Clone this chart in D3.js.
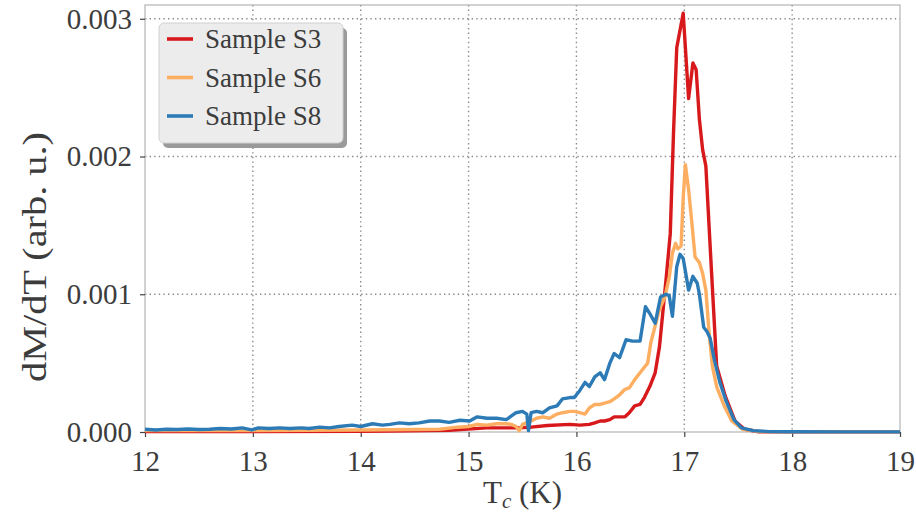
<!DOCTYPE html>
<html>
<head>
<meta charset="utf-8">
<script src="https://cdn.jsdelivr.net/npm/d3@7/dist/d3.min.js"></script>
<style>
  body { margin: 0; background: #fff; }
  text { font-family: "Liberation Serif", "DejaVu Serif", serif; fill: #3c3c3c; }
</style>
</head>
<body>
<svg id="chart" width="916" height="512"></svg>
<script>
// values, dM/dT in units of 0.001
var tempS3 = [12.0, 13.0, 14.0, 14.27, 14.82, 15.17, 15.44, 15.58, 15.73, 15.94, 16.03, 16.12, 16.17, 16.22, 16.26, 16.31, 16.35, 16.4, 16.45, 16.49, 16.54, 16.59, 16.63, 16.68, 16.73, 16.77, 16.8, 16.83, 16.87, 16.9, 16.93, 16.99, 17.04, 17.08, 17.11, 17.14, 17.17, 17.2, 17.25, 17.3, 17.38, 17.47, 17.56, 17.69, 18.0, 19.0];
var valS3 = [0.003, 0.004, 0.005, 0.006, 0.013, 0.03, 0.03, 0.035, 0.047, 0.055, 0.05, 0.055, 0.066, 0.08, 0.08, 0.09, 0.11, 0.11, 0.11, 0.14, 0.19, 0.2, 0.25, 0.33, 0.43, 0.62, 0.86, 1.1, 1.44, 2.17, 2.79, 3.04, 2.42, 2.68, 2.63, 2.27, 2.05, 1.93, 1.2, 0.48, 0.26, 0.08, 0.02, 0.002, 0.001, 0.001];

var tempS6 = [12.0, 13.0, 13.5, 14.0, 14.5, 14.73, 14.9, 15.0, 15.08, 15.17, 15.26, 15.35, 15.4, 15.44, 15.47, 15.5, 15.58, 15.63, 15.69, 15.75, 15.82, 15.87, 15.94, 15.98, 16.03, 16.08, 16.12, 16.17, 16.22, 16.26, 16.31, 16.35, 16.4, 16.45, 16.49, 16.54, 16.59, 16.63, 16.66, 16.69, 16.73, 16.77, 16.82, 16.86, 16.89, 16.92, 16.94, 16.97, 16.99, 17.01, 17.04, 17.07, 17.1, 17.14, 17.17, 17.2, 17.23, 17.26, 17.3, 17.37, 17.44, 17.54, 17.7, 18.0, 19.0];
var valS6 = [0.01, 0.01, 0.012, 0.015, 0.018, 0.02, 0.035, 0.04, 0.055, 0.05, 0.06, 0.06, 0.055, 0.04, 0.01, 0.055, 0.08, 0.1, 0.11, 0.1, 0.13, 0.14, 0.15, 0.15, 0.14, 0.13, 0.175, 0.2, 0.2, 0.21, 0.22, 0.24, 0.27, 0.31, 0.32, 0.38, 0.43, 0.47, 0.5, 0.65, 0.77, 0.89, 0.98, 1.12, 1.3, 1.37, 1.33, 1.35, 1.7, 1.94, 1.76, 1.52, 1.27, 1.23, 1.15, 1.03, 0.72, 0.48, 0.33, 0.19, 0.08, 0.02, 0.003, 0.001, 0.001];

var tempS8 = [12.0, 12.1, 12.2, 12.3, 12.4, 12.5, 12.6, 12.7, 12.8, 12.9, 12.99, 13.05, 13.15, 13.25, 13.34, 13.45, 13.52, 13.62, 13.71, 13.8, 13.92, 14.0, 14.11, 14.2, 14.27, 14.36, 14.45, 14.54, 14.64, 14.73, 14.82, 14.92, 15.01, 15.08, 15.17, 15.26, 15.35, 15.44, 15.5, 15.54, 15.555, 15.58, 15.63, 15.69, 15.75, 15.82, 15.87, 15.94, 15.98, 16.03, 16.08, 16.12, 16.17, 16.22, 16.26, 16.31, 16.35, 16.4, 16.46, 16.52, 16.59, 16.64, 16.68, 16.73, 16.78, 16.83, 16.86, 16.89, 16.93, 16.96, 16.99, 17.04, 17.08, 17.12, 17.14, 17.18, 17.21, 17.24, 17.28, 17.33, 17.39, 17.46, 17.53, 17.64, 17.79, 18.0, 18.5, 19.0];
var valS8 = [0.02, 0.015, 0.02, 0.018, 0.022, 0.018, 0.02, 0.025, 0.022, 0.03, 0.015, 0.03, 0.025, 0.03, 0.025, 0.03, 0.025, 0.035, 0.03, 0.04, 0.05, 0.04, 0.06, 0.05, 0.055, 0.066, 0.06, 0.066, 0.08, 0.08, 0.07, 0.085, 0.08, 0.11, 0.1, 0.1, 0.09, 0.14, 0.15, 0.13, 0.01, 0.14, 0.15, 0.14, 0.175, 0.19, 0.24, 0.25, 0.25, 0.3, 0.36, 0.33, 0.4, 0.43, 0.38, 0.5, 0.57, 0.54, 0.67, 0.66, 0.66, 0.91, 0.86, 0.79, 0.98, 1.0, 0.99, 0.84, 1.2, 1.29, 1.26, 1.03, 1.13, 1.08, 1.0, 0.76, 0.73, 0.68, 0.52, 0.36, 0.22, 0.09, 0.03, 0.01, 0.003, 0.002, 0.001, 0.001];

var seriesNames = ["Sample S3", "Sample S6", "Sample S8"];
var seriesColors = ["#d7191c", "#fdae61", "#2c7bb6"];
var xTicks = [12, 13, 14, 15, 16, 17, 18, 19];
var yTicks = [0, 1, 2, 3];
var yTickLabels = ["0.000", "0.001", "0.002", "0.003"];

var margin = { top: 5, right: 16, bottom: 80, left: 145 },
  w = 916 - margin.left - margin.right,
  h = 512 - margin.top - margin.bottom;

var svg = d3.select("#chart");
var g = svg.append("g")
  .attr("transform", "translate(" + margin.left + "," + margin.top + ")");

var xScale = d3.scaleLinear().domain([12, 19]).range([0, w]);
var yScale = d3.scaleLinear().domain([0, 3.1]).range([h, 0]);

// dotted grid
g.append("g").selectAll("line").data(xTicks.slice(1, -1)).enter().append("line")
  .attr("x1", d => xScale(d)).attr("x2", d => xScale(d))
  .attr("y1", 0).attr("y2", h)
  .attr("stroke", "#8a8a8a").attr("stroke-width", 1.4)
  .attr("stroke-dasharray", "1.4,3.2");
g.append("g").selectAll("line").data(yTicks.slice(1)).enter().append("line")
  .attr("x1", 0).attr("x2", w)
  .attr("y1", d => yScale(d)).attr("y2", d => yScale(d))
  .attr("stroke", "#8a8a8a").attr("stroke-width", 1.4)
  .attr("stroke-dasharray", "1.4,3.2");

// frame
g.append("rect")
  .attr("width", w).attr("height", h)
  .attr("fill", "none").attr("stroke", "#b4b4b4").attr("stroke-width", 1.2);

// axes
var xAxis = g.append("g")
  .attr("transform", "translate(0," + h + ")")
  .call(d3.axisBottom(xScale).tickValues(xTicks).tickSize(5).tickPadding(6).tickFormat(d3.format("d")));
var yAxis = g.append("g")
  .call(d3.axisLeft(yScale).tickValues(yTicks).tickSize(5).tickPadding(8)
    .tickFormat((d, i) => yTickLabels[i]));
[xAxis, yAxis].forEach(function (a) {
  a.select(".domain").remove();
  a.selectAll("line").attr("stroke", "#444").attr("stroke-width", 1.2);
  a.selectAll("text").attr("font-size", 29).attr("fill", "#3c3c3c")
    .style("font-family", '"Liberation Serif", serif');
});
xAxis.selectAll("text").attr("dy", "0.95em");

// curves
var temps = [tempS3, tempS6, tempS8];
var vals = [valS3, valS6, valS8];
var line = d3.line().x(d => xScale(d[0])).y(d => yScale(d[1]));
temps.forEach(function (t, k) {
  var pts = t.map((d, i) => [d, vals[k][i]]);
  g.append("path").datum(pts)
    .attr("d", line)
    .attr("fill", "none")
    .attr("stroke", seriesColors[k])
    .attr("stroke-width", 3.4)
    .attr("stroke-linejoin", "round");
});

// axis titles
var xt = svg.append("text")
  .attr("x", margin.left + w / 2)
  .attr("y", 503)
  .attr("text-anchor", "middle")
  .attr("font-size", 31);
xt.append("tspan").text("T");
xt.append("tspan").attr("font-size", 21).attr("font-style", "italic").attr("dy", 5).text("c");
xt.append("tspan").attr("dy", -5).text(" (K)");

svg.append("text")
  .attr("transform", "translate(46,257) rotate(-90)")
  .attr("text-anchor", "middle")
  .attr("font-size", 33)
  .attr("textLength", 250)
  .attr("lengthAdjust", "spacingAndGlyphs")
  .text("dM/dT (arb. u.)");

// legend
var lg = svg.append("g").attr("transform", "translate(159,23)");
lg.append("rect")
  .attr("x", 4).attr("y", 5).attr("width", 184).attr("height", 120).attr("rx", 5)
  .attr("fill", "#9a9a9a");
lg.append("rect")
  .attr("width", 184).attr("height", 120).attr("rx", 5)
  .attr("fill", "#ececec").attr("stroke", "#d0d0d0");
seriesNames.forEach(function (name, i) {
  var yy = 16 + i * 38.5;
  lg.append("line")
    .attr("x1", 8).attr("x2", 34).attr("y1", yy).attr("y2", yy)
    .attr("stroke", seriesColors[i]).attr("stroke-width", 3.6);
  lg.append("text")
    .attr("x", 46).attr("y", yy).attr("dy", "0.34em")
    .attr("font-size", 27)
    .text(name);
});
</script>
</body>
</html>
